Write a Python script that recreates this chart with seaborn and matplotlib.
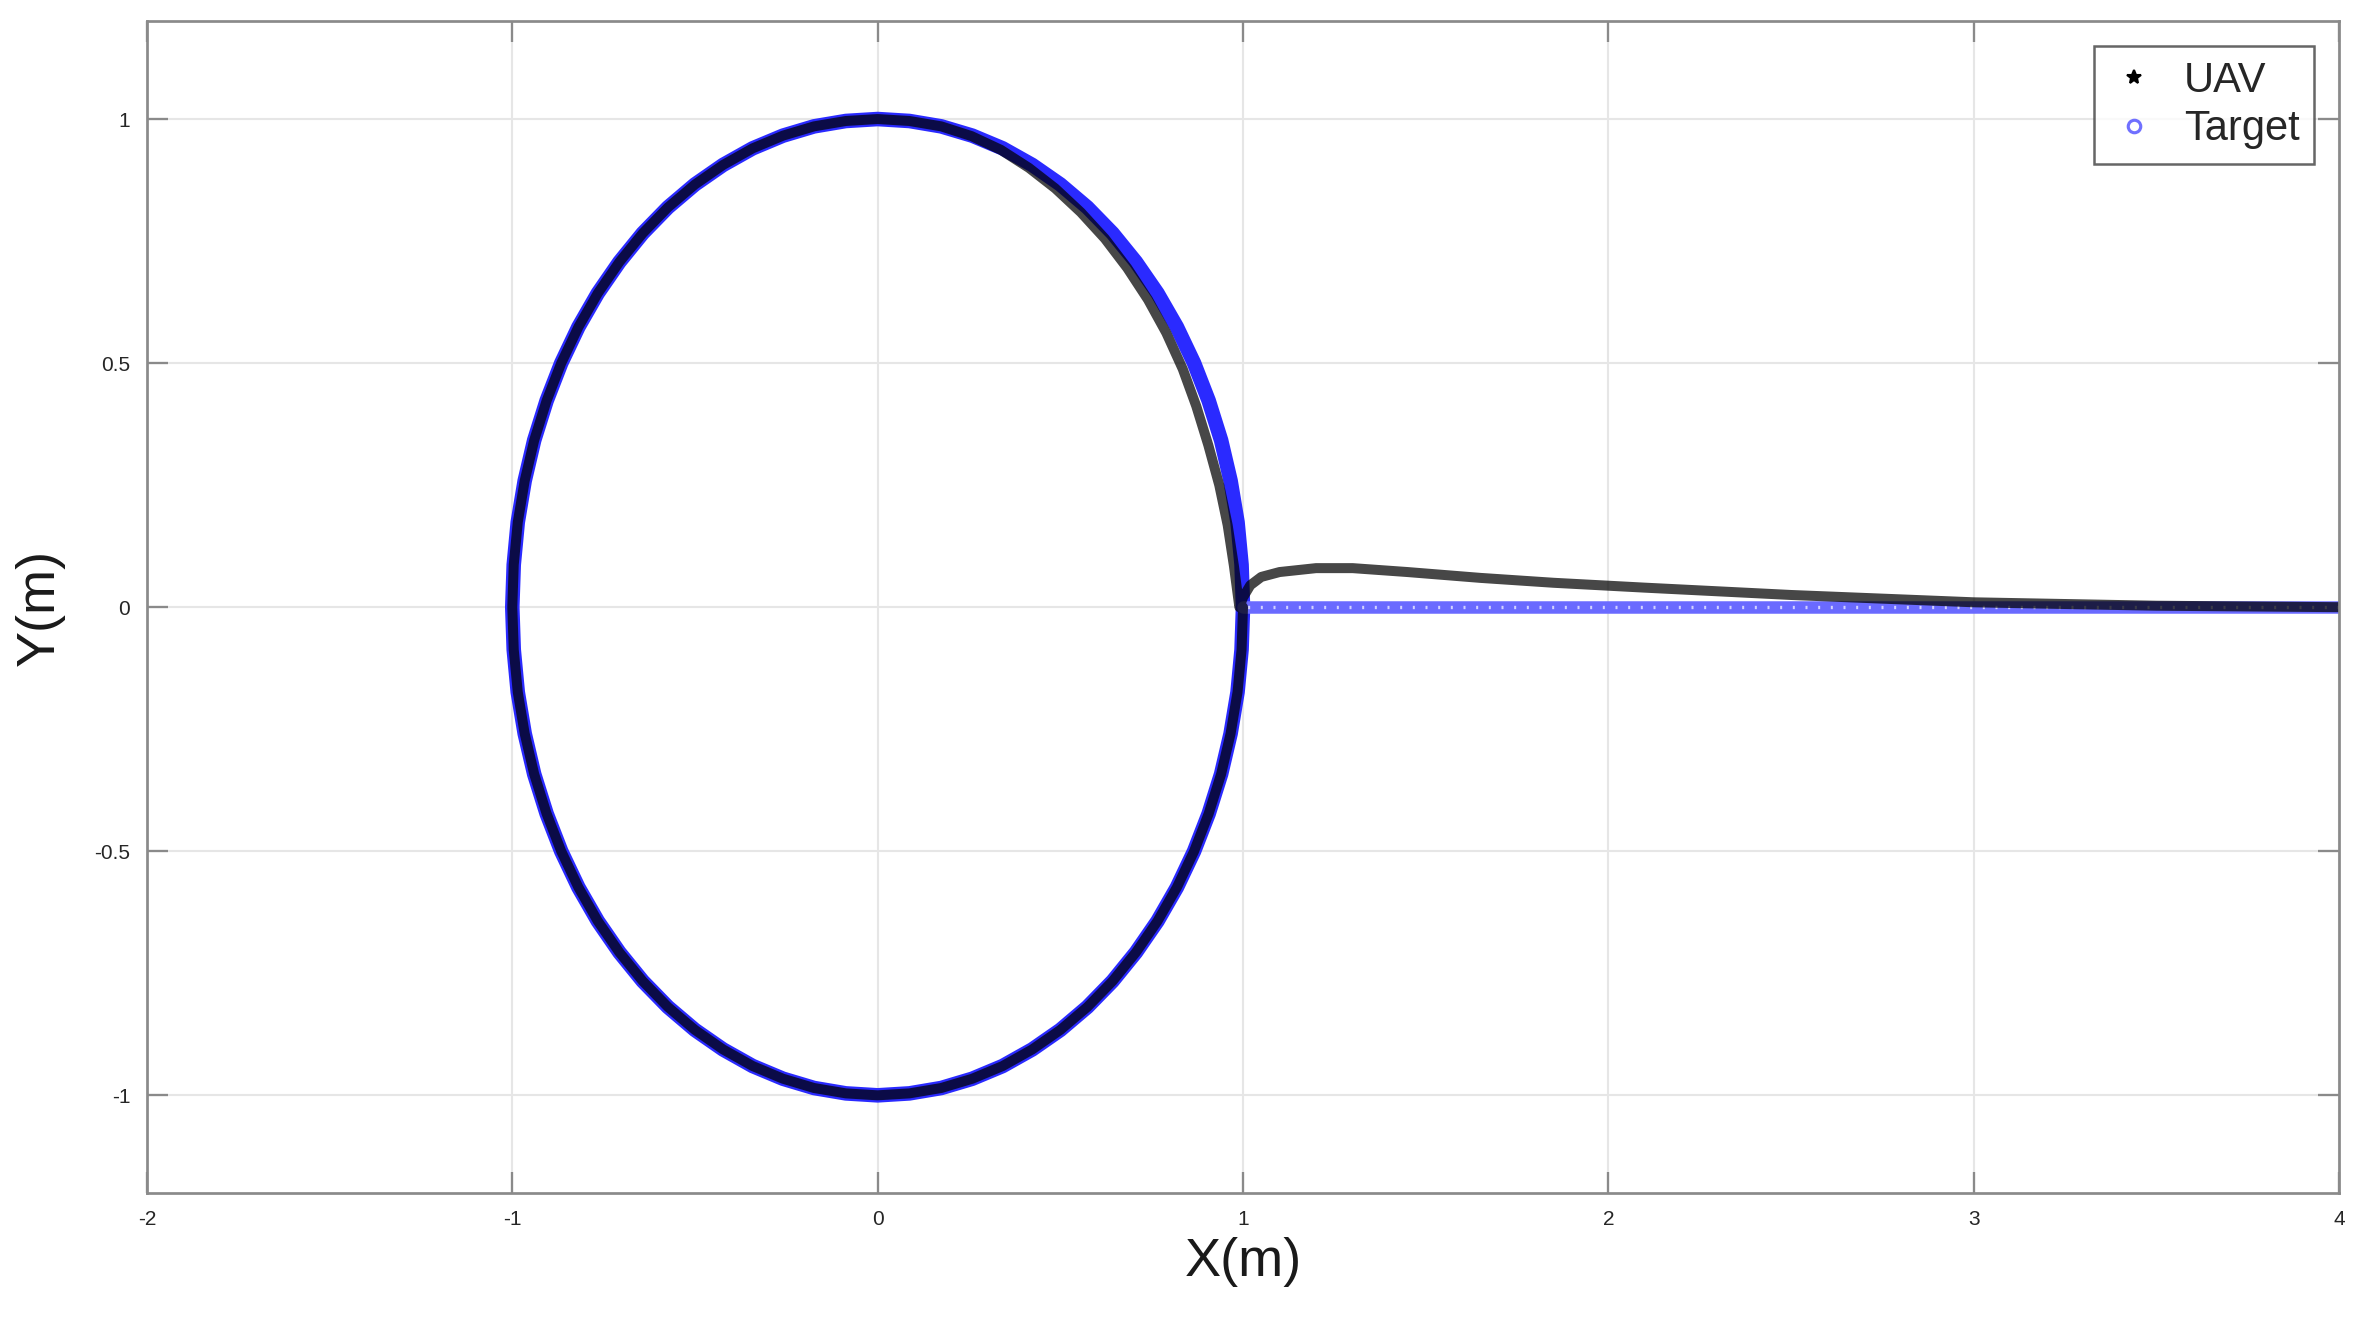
import matplotlib
matplotlib.use("Agg")
import matplotlib.pyplot as plt
from matplotlib.lines import Line2D
import seaborn as sns

# target: circle of radius 1, read every 5 deg, plus the straight run on y=0
circle_x = [1.0, 0.996, 0.985, 0.966, 0.940, 0.906, 0.866, 0.819, 0.766, 0.707,
            0.643, 0.574, 0.5, 0.423, 0.342, 0.259, 0.174, 0.087, 0.0,
            -0.087, -0.174, -0.259, -0.342, -0.423, -0.5, -0.574, -0.643, -0.707,
            -0.766, -0.819, -0.866, -0.906, -0.940, -0.966, -0.985, -0.996, -1.0,
            -0.996, -0.985, -0.966, -0.940, -0.906, -0.866, -0.819, -0.766, -0.707,
            -0.643, -0.574, -0.5, -0.423, -0.342, -0.259, -0.174, -0.087, 0.0,
            0.087, 0.174, 0.259, 0.342, 0.423, 0.5, 0.574, 0.643, 0.707,
            0.766, 0.819, 0.866, 0.906, 0.940, 0.966, 0.985, 0.996, 1.0]
circle_y = [0.0, 0.087, 0.174, 0.259, 0.342, 0.423, 0.5, 0.574, 0.643, 0.707,
            0.766, 0.819, 0.866, 0.906, 0.940, 0.966, 0.985, 0.996, 1.0,
            0.996, 0.985, 0.966, 0.940, 0.906, 0.866, 0.819, 0.766, 0.707,
            0.643, 0.574, 0.5, 0.423, 0.342, 0.259, 0.174, 0.087, 0.0,
            -0.087, -0.174, -0.259, -0.342, -0.423, -0.5, -0.574, -0.643, -0.707,
            -0.766, -0.819, -0.866, -0.906, -0.940, -0.966, -0.985, -0.996, -1.0,
            -0.996, -0.985, -0.966, -0.940, -0.906, -0.866, -0.819, -0.766, -0.707,
            -0.643, -0.574, -0.5, -0.423, -0.342, -0.259, -0.174, -0.087, 0.0]
target_run_x = [4.0, 1.0]
target_run_y = [0.0, 0.0]

# UAV: approach from x=4 with a small hump, lags just inside the circle, then tracks it
uav_x = [4.0, 3.5, 3.0, 2.5, 2.1, 1.85, 1.65, 1.45, 1.3, 1.2, 1.1, 1.05, 1.02, 1.0,
         0.990, 0.975, 0.958, 0.935, 0.905, 0.872, 0.835, 0.790, 0.740, 0.683,
         0.622, 0.556, 0.486, 0.414, 0.337, 0.257, 0.174, 0.087, 0.0,
         -0.087, -0.174, -0.259, -0.342, -0.423, -0.5, -0.574, -0.643, -0.707,
         -0.766, -0.819, -0.866, -0.906, -0.940, -0.966, -0.985, -0.996, -1.0,
         -0.996, -0.985, -0.966, -0.940, -0.906, -0.866, -0.819, -0.766, -0.707,
         -0.643, -0.574, -0.5, -0.423, -0.342, -0.259, -0.174, -0.087, 0.0,
         0.087, 0.174, 0.259, 0.342, 0.423, 0.5, 0.574, 0.643, 0.707,
         0.766, 0.819, 0.866, 0.906, 0.940, 0.966, 0.985, 0.996, 1.0]
uav_y = [0.0, 0.003, 0.01, 0.025, 0.04, 0.05, 0.06, 0.072, 0.08, 0.08, 0.072, 0.062, 0.045, 0.02,
         0.0, 0.085, 0.168, 0.250, 0.332, 0.412, 0.488, 0.562, 0.630, 0.695,
         0.755, 0.809, 0.858, 0.900, 0.937, 0.965, 0.985, 0.996, 1.0,
         0.996, 0.985, 0.966, 0.940, 0.906, 0.866, 0.819, 0.766, 0.707,
         0.643, 0.574, 0.5, 0.423, 0.342, 0.259, 0.174, 0.087, 0.0,
         -0.087, -0.174, -0.259, -0.342, -0.423, -0.5, -0.574, -0.643, -0.707,
         -0.766, -0.819, -0.866, -0.906, -0.940, -0.966, -0.985, -0.996, -1.0,
         -0.996, -0.985, -0.966, -0.940, -0.906, -0.866, -0.819, -0.766, -0.707,
         -0.643, -0.574, -0.5, -0.423, -0.342, -0.259, -0.174, -0.087, 0.0]

x_ticks = [-2, -1, 0, 1, 2, 3, 4]
y_ticks = [-1, -0.5, 0, 0.5, 1]
y_tick_labels = ["-1", "-0.5", "0", "0.5", "1"]

sns.set_theme(style="whitegrid")
plt.rcParams["font.family"] = ["Liberation Sans", "DejaVu Sans"]

fig, ax = plt.subplots(figsize=(15.72, 8.92), dpi=150)
fig.subplots_adjust(left=0.0623, right=0.992, top=0.984, bottom=0.1084)

sns.lineplot(x=circle_x, y=circle_y, sort=False, estimator=None, ax=ax,
             color="#2a2aff", lw=7.0, solid_joinstyle="round")
sns.lineplot(x=target_run_x, y=target_run_y, sort=False, estimator=None, ax=ax,
             color="#6a6aff", lw=6.0, solid_capstyle="round")
ax.plot(target_run_x, target_run_y, color="white", lw=1.6, ls=(0, (0.6, 3.2)), alpha=0.7)
sns.lineplot(x=uav_x, y=uav_y, sort=False, estimator=None, ax=ax,
             color="black", lw=4.8, alpha=0.72, solid_joinstyle="round")

ax.set_xlim(-2, 4)
ax.set_ylim(-1.2, 1.2)
ax.set_xticks(x_ticks)
ax.set_xticklabels([str(t) for t in x_ticks])
ax.set_yticks(y_ticks)
ax.set_yticklabels(y_tick_labels)
ax.grid(True, color="#e6e6e6", lw=1.0)
ax.set_facecolor("white")
for s in ax.spines.values():
    s.set_color("#8a8a8a")
    s.set_linewidth(1.3)
ax.tick_params(direction="in", length=10, width=1.1, color="#8a8a8a",
               labelsize=10, labelcolor="#262626", top=True, right=True,
               bottom=True, left=True, pad=8)

ax.set_xlabel("X(m)", fontsize=26, color="#1a1a1a", labelpad=4)
ax.set_ylabel("Y(m)", fontsize=26, color="#1a1a1a", labelpad=14)

handles = [Line2D([], [], ls="none", marker="*", color="black", markersize=7),
           Line2D([], [], ls="none", marker="o", mfc="none", mec="#7070ff",
                  mew=1.5, markersize=6)]
leg = ax.legend(handles, ["UAV", "Target"], loc="upper right", fontsize=20,
                frameon=True, fancybox=False, borderpad=0.35, handlelength=1.2,
                handletextpad=0.6, labelspacing=0.2, borderaxespad=0.6)
leg.get_frame().set_edgecolor("#404040")
leg.get_frame().set_linewidth(1.2)

fig.savefig("out.png", dpi=150)
